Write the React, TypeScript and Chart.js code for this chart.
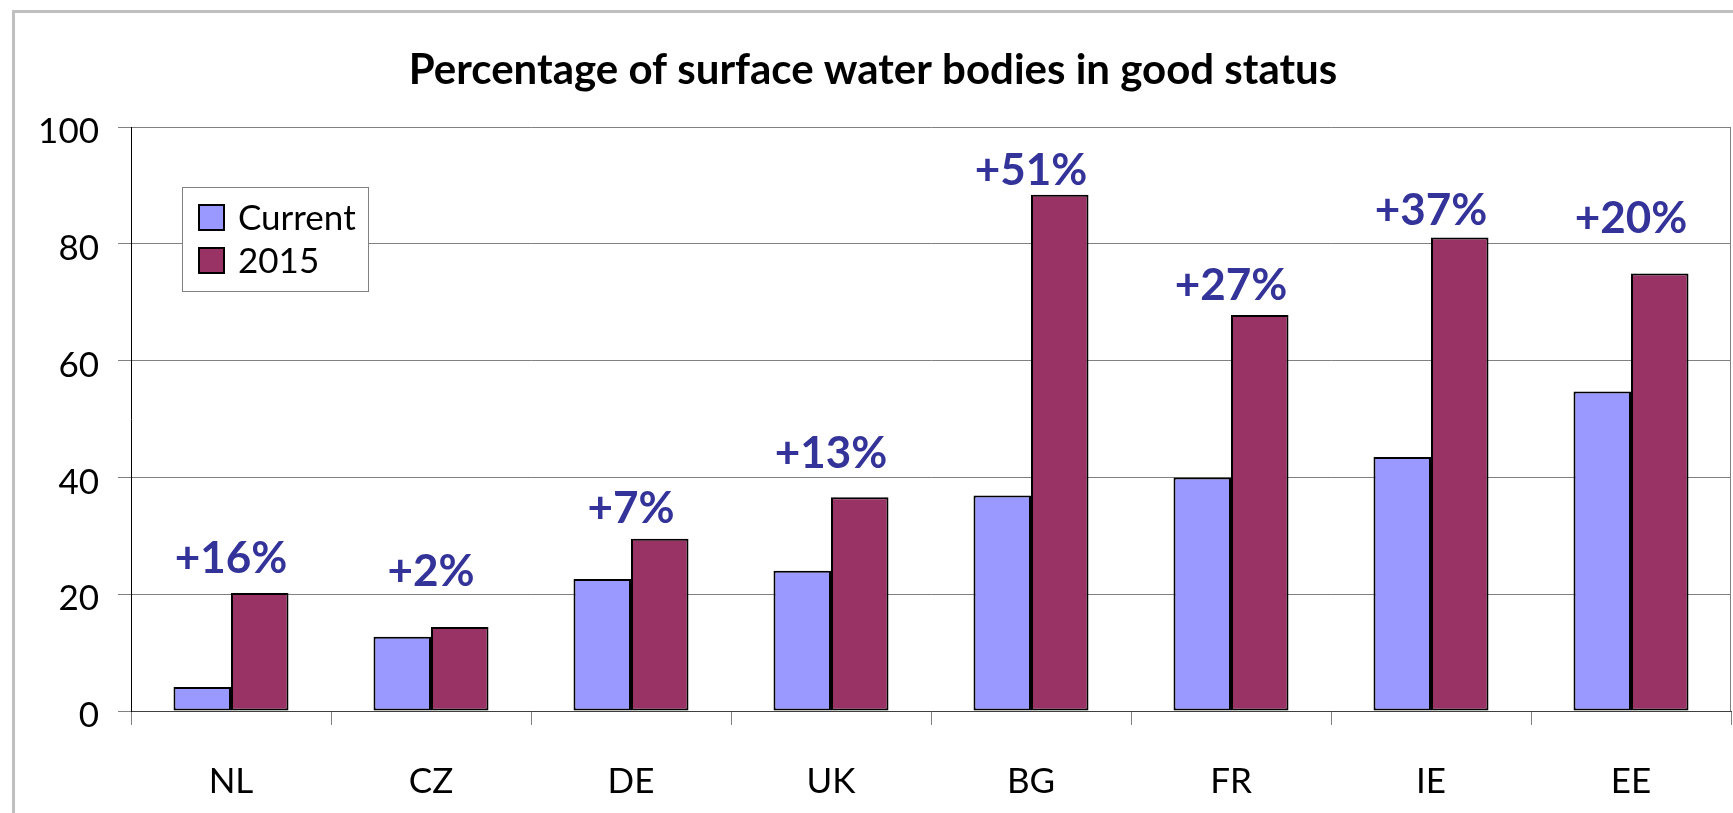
import React, { useEffect, useRef } from "react";
import { Chart, registerables } from "chart.js";

Chart.register(...registerables);

const chartTitle = "Percentage of surface water bodies in good status";
const categories = ["NL", "CZ", "DE", "UK", "BG", "FR", "IE", "EE"];
const seriesNames = ["Current", "2015"];
const currentValues = [4.1, 12.7, 22.6, 24.0, 36.9, 40.0, 43.5, 54.7];
const values2015 = [20.2, 14.4, 29.5, 36.6, 88.4, 67.8, 81.1, 74.9];
const changeLabels = ["+16%", "+2%", "+7%", "+13%", "+51%", "+27%", "+37%", "+20%"];
const changeLabelY = [23.6, 21.4, 32.2, 41.6, 90.0, 70.4, 83.2, 81.8];
const yMin = 0;
const yMax = 100;
const yStep = 20;

const FONT = "Lato, 'Open Sans', 'DejaVu Sans', sans-serif";

const plotBorderPlugin = {
  id: "plotBorder",
  beforeDatasetsDraw(chart: any) {
    const { ctx, chartArea } = chart;
    ctx.save();
    ctx.strokeStyle = "#808080";
    ctx.lineWidth = 1;
    ctx.beginPath();
    ctx.moveTo(Math.round(chartArea.right) - 0.5, chartArea.top);
    ctx.lineTo(Math.round(chartArea.right) - 0.5, chartArea.bottom);
    ctx.stroke();
    ctx.restore();
  },
};

const legendBoxPlugin = {
  id: "legendBox",
  afterDatasetsDraw(chart: any) {
    const { ctx, chartArea } = chart;
    const x = Math.round(chartArea.left + 51);
    const y = Math.round(chartArea.top + 60);
    const w = 186;
    const h = 104;
    ctx.save();
    ctx.fillStyle = "#ffffff";
    ctx.fillRect(x, y, w, h);
    ctx.strokeStyle = "#808080";
    ctx.lineWidth = 1;
    ctx.strokeRect(x + 0.5, y + 0.5, w, h);
    chart.data.datasets.forEach((ds: any, i: number) => {
      const sy = y + 17 + i * 43;
      ctx.fillStyle = ds.backgroundColor;
      ctx.fillRect(x + 16, sy, 27, 27);
      ctx.strokeStyle = "#000000";
      ctx.lineWidth = 2;
      ctx.strokeRect(x + 17, sy + 1, 25, 25);
      ctx.fillStyle = "#000000";
      ctx.font = `35px ${FONT}`;
      ctx.textAlign = "left";
      ctx.textBaseline = "middle";
      ctx.fillText(ds.label, x + 56, sy + 15);
    });
    ctx.restore();
  },
};

const changeLabelPlugin = {
  id: "changeLabels",
  afterDatasetsDraw(chart: any) {
    const { ctx } = chart;
    const xs = chart.scales.x;
    const ys = chart.scales.y;
    ctx.save();
    ctx.font = `bold 44px ${FONT}`;
    ctx.fillStyle = "#333399";
    ctx.textAlign = "center";
    ctx.textBaseline = "alphabetic";
    changeLabels.forEach((t, i) => {
      ctx.fillText(t, xs.getPixelForValue(i), ys.getPixelForValue(changeLabelY[i]));
    });
    ctx.restore();
  },
};

export default function App() {
  const canvasRef = useRef<HTMLCanvasElement | null>(null);

  useEffect(() => {
    if (!canvasRef.current) return;
    const chart = new Chart(canvasRef.current, {
      type: "bar",
      data: {
        labels: categories,
        datasets: [
          {
            label: seriesNames[0],
            data: currentValues,
            backgroundColor: "#9999FF",
            borderColor: "#000000",
            borderWidth: 2,
            borderSkipped: false,
          },
          {
            label: seriesNames[1],
            data: values2015,
            backgroundColor: "#993366",
            borderColor: "#000000",
            borderWidth: 2,
            borderSkipped: false,
          },
        ],
      },
      options: {
        responsive: false,
        animation: false,
        devicePixelRatio: 1,
        layout: { padding: { left: 0, right: 22, top: 0, bottom: 0 } },
        datasets: {
          bar: { categoryPercentage: 0.575, barPercentage: 1 },
        },
        plugins: {
          legend: { display: false },
          tooltip: { enabled: false },
          title: {
            display: true,
            text: chartTitle,
            color: "#000000",
            font: { family: FONT, size: 42, weight: "bold", lineHeight: 1.2 },
            padding: { top: 32.5, bottom: 31.1 },
          },
        },
        scales: {
          x: {
            offset: true,
            grid: {
              offset: true,
              drawOnChartArea: false,
              drawTicks: true,
              tickLength: 14,
              tickColor: "#808080",
            },
            border: { display: true, color: "#404040", width: 1 },
            ticks: {
              color: "#000000",
              font: { family: FONT, size: 35 },
              padding: 36,
              maxRotation: 0,
            },
            afterFit(scale: any) {
              scale.height = 132;
            },
          },
          y: {
            min: yMin,
            max: yMax,
            grid: {
              color: "#808080",
              lineWidth: 1,
              drawTicks: true,
              tickLength: 13,
              tickColor: "#808080",
            },
            border: { display: true, color: "#000000", width: 1 },
            ticks: {
              stepSize: yStep,
              color: "#000000",
              font: { family: FONT, size: 35 },
              padding: 19,
              labelOffset: 5,
            },
            afterFit(scale: any) {
              scale.width = 116;
            },
          },
        },
      },
      plugins: [plotBorderPlugin, legendBoxPlugin, changeLabelPlugin],
    });
    return () => chart.destroy();
  }, []);

  return (
    <div
      style={{
        position: "fixed",
        left: 0,
        top: 0,
        width: "100vw",
        height: "100vh",
        overflow: "hidden",
        background: "#ffffff",
      }}
    >
      <div
        style={{
          position: "absolute",
          left: 12,
          top: 10,
          width: 1738,
          height: 830,
          border: "3px solid #c0c0c0",
          background: "#ffffff",
        }}
      >
        <canvas ref={canvasRef} width={1738} height={830} style={{ display: "block" }} />
      </div>
    </div>
  );
}
